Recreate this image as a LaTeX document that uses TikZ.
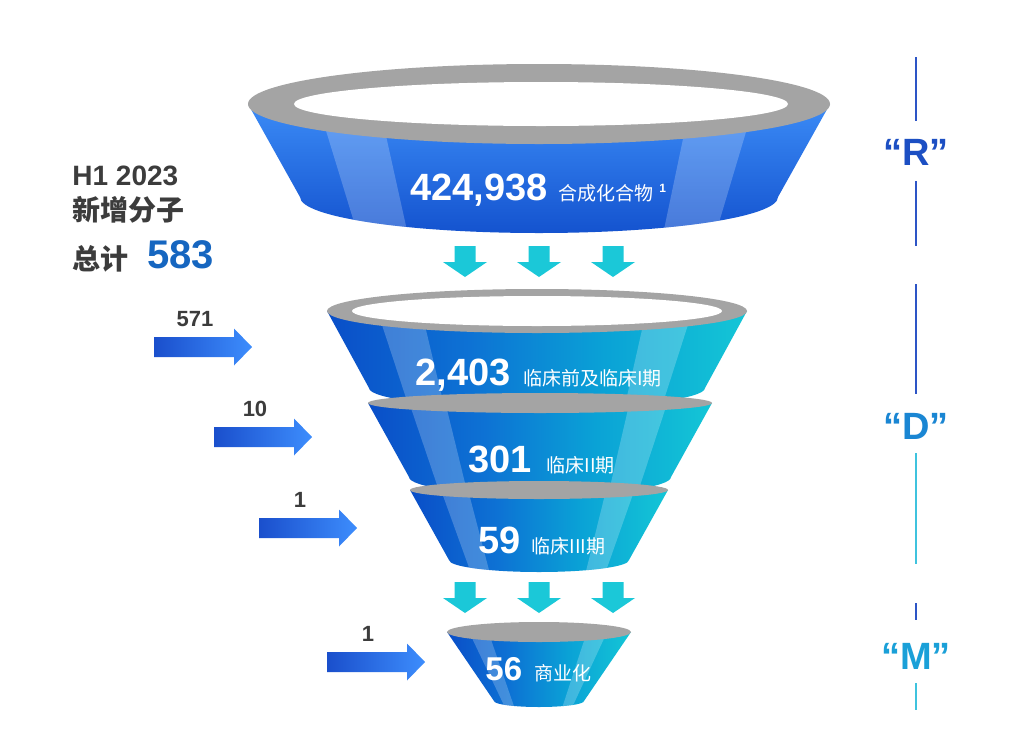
\documentclass[tikz,border=0pt]{standalone}
\usepackage{fontspec}
\setmainfont{Liberation Sans}
\newfontfamily\cjk{Noto Sans CJK SC}
\usetikzlibrary{positioning}

\definecolor{topA}{HTML}{3B8BF6}
\definecolor{topB}{HTML}{1453CF}
\definecolor{stgA}{HTML}{0A4EC8}
\definecolor{stgB}{HTML}{0D72D4}
\definecolor{stgC}{HTML}{0AA2D6}
\definecolor{stgD}{HTML}{14C6D6}
\definecolor{rimgray}{HTML}{A4A4A4}
\definecolor{inA}{HTML}{1A4FCC}
\definecolor{inB}{HTML}{3D8DFD}
\definecolor{downcyan}{HTML}{1BC8D8}
\definecolor{ink}{HTML}{3C3C3C}
\definecolor{blueTotal}{HTML}{1666C0}
\definecolor{Rcol}{HTML}{1C4FC3}
\definecolor{Dcol}{HTML}{1A86D3}
\definecolor{Mcol}{HTML}{1AA0D8}
\definecolor{lineblue}{HTML}{2D55C6}
\definecolor{linecyan}{HTML}{3FC3DE}

\pgfdeclarehorizontalshading{stageshade}{100bp}{color(0bp)=(stgA); color(25bp)=(stgA); color(42bp)=(stgB); color(58bp)=(stgC); color(75bp)=(stgD); color(100bp)=(stgD)}

% cx, top y, top rx, bottom y, bottom rx, bottom ry, style
\newcommand{\funnelpart}[7]{%
  \path[#7] (#1-#3,#2) -- (#1-#5,#4) arc[start angle=180, end angle=0, x radius=#5, y radius=#6] -- (#1+#3,#2) -- cycle;
  \begin{scope}
    \clip (#1-#3,#2) -- (#1-#5,#4) arc[start angle=180, end angle=0, x radius=#5, y radius=#6] -- (#1+#3,#2) -- cycle;
    \fill[stripe] (#1-0.76*#3,#2) -- (#1-0.55*#3,#2) -- (#1-0.55*#5,#4+#6) -- (#1-0.76*#5,#4+#6) -- cycle;
    \fill[stripe] (#1+0.52*#3,#2) -- (#1+0.74*#3,#2) -- (#1+0.74*#5,#4+#6) -- (#1+0.52*#5,#4+#6) -- cycle;
  \end{scope}}

\begin{document}
\begin{tikzpicture}[x=0.5pt,y=-0.5pt]
	\tikzstyle{every node}=[inner sep=0pt]
	\tikzstyle{rim}=[fill=rimgray]
	\tikzstyle{stripe}=[fill=white,fill opacity=.22]
	\tikzstyle{topbody}=[top color=topA,bottom color=topB]
	\tikzstyle{stagebody}=[shading=stageshade]
	\tikzstyle{bignum}=[text=white,font=\bfseries\fontsize{19}{19}\selectfont,anchor=base west]
	\tikzstyle{stagetext}=[text=white,font=\cjk\fontsize{9.5}{9.5}\selectfont]
	\tikzstyle{inarrow}=[left color=inA,right color=inB]
	\tikzstyle{downarrow}=[fill=downcyan]
	\tikzstyle{countlabel}=[text=ink,font=\bfseries\fontsize{11}{11}\selectfont,anchor=base]
	\tikzstyle{lefttext}=[text=ink,font=\bfseries\fontsize{14}{14}\selectfont,anchor=base west]
	\tikzstyle{phase}=[font=\bfseries\fontsize{19}{19}\selectfont]
	\tikzstyle{divider}=[line width=1pt]
	\useasboundingbox[fill=white] (0,0) rectangle (1024,729);

	\funnelpart{539}{104}{291}{197}{239}{36}{topbody}
	\fill[rim] (539,104) ellipse [x radius=291, y radius=40];
	\fill[white] (541,104) ellipse [x radius=247, y radius=22];

	\funnelpart{537}{311}{210}{388}{168}{20}{stagebody}
	\fill[rim] (537,311) ellipse [x radius=210, y radius=22];
	\fill[white] (537,311) ellipse [x radius=185, y radius=15];

	\funnelpart{540}{403}{172}{477}{131}{18}{stagebody}
	\fill[rim] (540,403) ellipse [x radius=172, y radius=10];

	\funnelpart{539}{490}{129}{560}{90}{12}{stagebody}
	\fill[rim] (539,490) ellipse [x radius=129, y radius=9];

	\funnelpart{539}{632}{92}{701}{45}{6}{stagebody}
	\fill[rim] (539,632) ellipse [x radius=92, y radius=10];

	\foreach \y in {246,582}
	\foreach \x in {465,539,613}
	\fill[downarrow] (\x-10.5,\y) -- ++(21,0) -- ++(0,16) -- ++(11.5,0) -- (\x,\y+31) -- (\x-22,\y+16) -- ++(11.5,0) -- cycle;

	\foreach \x/\y/\n [count=\i] in {154/347/571,214/437/10,259/528/1,327/662/1}{
		\shade[inarrow] (\x,\y-10) -- ++(80,0) -- ++(0,-8.5) -- ++(18,18.5) -- ++(-18,18.5) -- ++(0,-8.5) -- ++(-80,0) -- cycle;
		\node[countlabel] (c\i) at (\x+41,\y-21) {\n};
	}

	\node[bignum] (n1) at (410,200) {424,938};
	\node[stagetext,base right=5pt of n1] (t1) {合成化合物};
	\node[text=white,font=\bfseries\fontsize{6}{6}\selectfont,base right=2.5pt of t1,yshift=4pt] (s1) {1};
	\node[bignum] (n2) at (415,385) {2,403};
	\node[stagetext,base right=6pt of n2] (t2) {临床前及临床I期};
	\node[bignum] (n3) at (468,472) {301};
	\node[stagetext,base right=7pt of n3] (t3) {临床II期};
	\node[bignum] (n4) at (478,553) {59};
	\node[stagetext,base right=5pt of n4] (t4) {临床III期};
	\node[bignum,font=\bfseries\fontsize{16.5}{16.5}\selectfont] (n5) at (485,680) {56};
	\node[stagetext,base right=6pt of n5] (t5) {商业化};

	\node[lefttext] (h1) at (72,185) {H1 2023};
	\node[lefttext,font=\cjk\bfseries\fontsize{14}{14}\selectfont] (h2) at (72,220) {新增分子};
	\node[lefttext,font=\cjk\bfseries\fontsize{14}{14}\selectfont] (h3) at (72,269) {总计};
	\node[lefttext,text=blueTotal,font=\bfseries\fontsize{20}{20}\selectfont] (total) at (147,268) {583};

	\foreach \a/\b/\c in {57/121/lineblue,181/246/lineblue,284/394/lineblue,453/564/linecyan,603/620/lineblue,683/710/linecyan}
	\draw[divider,\c] (916,\a) -- (916,\b);
	\node[phase,text=Rcol] (R) at (916,152) {“R”};
	\node[phase,text=Dcol] (D) at (916,426) {“D”};
	\node[phase,text=Mcol] (M) at (916,656) {“M”};
\end{tikzpicture}
\end{document}
